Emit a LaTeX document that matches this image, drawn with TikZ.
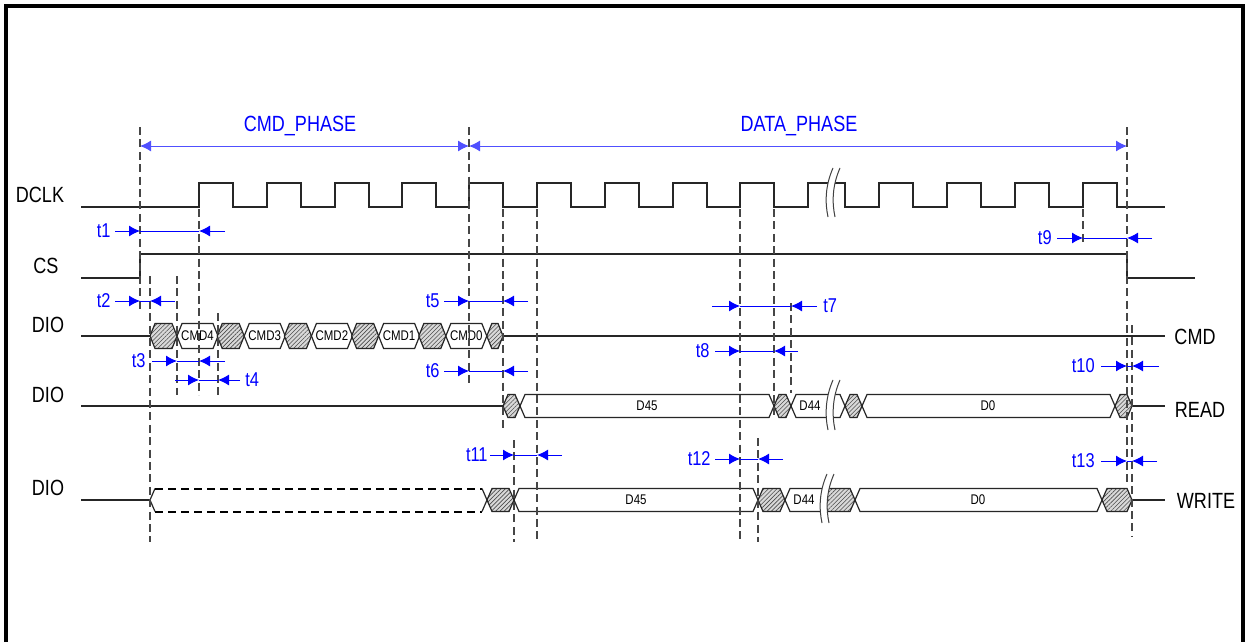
\documentclass[tikz,border=0pt]{standalone}
\usepackage{fontspec}
\setmainfont{Liberation Sans}[FakeStretch=0.82]
\usetikzlibrary{arrows.meta,patterns.meta}

\definecolor{tblue}{RGB}{0,0,255}
\definecolor{phblue}{RGB}{80,80,255}
\definecolor{dgray}{RGB}{70,70,70}

% one bus cell: style, x left, x right, y centre, half height
\newcommand\buscell[5]{%
  \draw[#1] (#2,#4) -- (#2+5,#4-#5) -- (#3-5,#4-#5) -- (#3,#4)
    -- (#3-5,#4+#5) -- (#2+5,#4+#5) -- cycle;}

% break mark: x, y top, y bottom
\newcommand\sigbreak[3]{%
  \fill[white] (#1+4,#2) .. controls (#1-4,#2+18) and (#1-4,#3-14) .. (#1-1,#3)
    -- (#1+6,#3) .. controls (#1+3,#3-14) and (#1+3,#2+18) .. (#1+11,#2) -- cycle;
  \draw[brkline] (#1+4,#2) .. controls (#1-4,#2+18) and (#1-4,#3-14) .. (#1-1,#3);
  \draw[brkline] (#1+11,#2) .. controls (#1+3,#2+18) and (#1+3,#3-14) .. (#1+6,#3);}

\begin{document}
\begin{tikzpicture}[
  x=0.5pt, y=-0.5pt,
  font=\fontsize{11}{13}\selectfont,
  sig/.style={line width=0.6pt, black!85},
  brkline/.style={line width=0.5pt, black!75},
  vdash/.style={dgray, line width=0.55pt, dash pattern=on 4pt off 2.2pt},
  hatch/.style={sig, preaction={fill=gray!30}, pattern={Lines[angle=45,distance=1.5pt,line width=0.3pt]}, pattern color=gray!60!black},
  cell/.style={sig, fill=white},
  wdash/.style={line width=1pt, black, dash pattern=on 4pt off 2.5pt},
  buslbl/.style={font=\fontsize{7}{8}\selectfont, inner sep=0},
  lbl/.style={inner sep=0, anchor=base},
  tlbl/.style={tblue, font=\fontsize{10}{12}\selectfont, inner sep=0},
  tline/.style={tblue, line width=0.5pt},
  tarr/.style={tline, -{Latex[length=5.5pt,width=5.5pt]}},
  pharr/.style={phblue, line width=0.5pt, {Latex[length=5.5pt,width=5.5pt]}-{Latex[length=5.5pt,width=5.5pt]}}
]
\useasboundingbox (0,0) rectangle (1245,642);
\fill[white] (0,0) rectangle (1245,642);
\draw[line width=1.6pt] (6,642) -- (6,6) -- (1243,6) -- (1243,642);

% signal names
\node[lbl] (dclk) at (40,202) {DCLK};
\node[lbl] (cs) at (46,273) {CS};
\node[lbl] (dioc) at (48,332) {DIO};
\node[lbl] (dior) at (48,402) {DIO};
\node[lbl] (diow) at (48,495) {DIO};
\node[lbl] (cmd) at (1195,344) {CMD};
\node[lbl] (read) at (1200,417) {READ};
\node[lbl] (write) at (1206,508) {WRITE};

% phases
\coordinate (phA) at (140,146);
\coordinate (phB) at (469,146);
\coordinate (phC) at (1127,146);
\draw[pharr] (phA) -- (phB);
\draw[pharr] (phB) -- (phC);
\node[lbl, tblue] (cmdph) at (300,131) {CMD\_PHASE};
\node[lbl, tblue] (dataph) at (799,131) {DATA\_PHASE};

% DCLK
\draw[sig] (81,207) foreach \r in {199,267,335,402,469,537,605,673,740} {
    -- (\r,207) -- (\r,183) -- (\r+34,183) -- (\r+34,207) }
  -- (808,207) -- (808,183) -- (845,183) -- (845,207)
  foreach \r in {879,947,1015,1083} {
    -- (\r,207) -- (\r,183) -- (\r+34,183) -- (\r+34,207) }
  -- (1165,207);

% CS
\draw[sig] (81,278) -- (140,278) -- (140,254) -- (1127,254) -- (1127,278) -- (1195,278);

% DIO, command
\draw[sig] (81,336) -- (150,336);
\foreach \i/\c in {0/CMD4,1/CMD3,2/CMD2,3/CMD1,4/CMD0} {
  \pgfmathsetmacro\xs{150+67.2*\i}
  \buscell{hatch}{\xs}{\xs+27}{336}{12.5}
  \buscell{cell}{\xs+27}{\xs+68}{336}{12.5}
  \node[buslbl] (\c) at (\xs+47.5,336) {\c};
}
\buscell{hatch}{486.8}{503}{336}{12.5}
\draw[sig] (503,336) -- (1165,336);

% DIO, read
\draw[sig] (81,406) -- (503,406);
\buscell{hatch}{503}{520}{406}{11.5}
\buscell{cell}{520}{774}{406}{11.5}
\buscell{hatch}{774}{791}{406}{11.5}
\buscell{cell}{791}{845}{406}{11.5}
\buscell{hatch}{845}{862}{406}{11.5}
\buscell{cell}{862}{1115}{406}{11.5}
\buscell{hatch}{1115}{1132}{406}{11.5}
\draw[sig] (1132,406) -- (1165,406);
\node[buslbl] (d45r) at (647,406) {D45};
\node[buslbl] (d44r) at (810,406) {D44};
\node[buslbl] (d0r) at (988,406) {D0};

% DIO, write
\draw[sig] (81,500) -- (150,500);
\draw[sig] (155,488.5) -- (150,500) -- (155,511.5);
\draw[wdash] (155,488.5) -- (482,488.5) (155,511.5) -- (482,511.5);
\draw[sig] (482,488.5) -- (487,500) -- (482,511.5);
\buscell{hatch}{487}{514}{500}{11.5}
\buscell{cell}{514}{758}{500}{11.5}
\buscell{hatch}{758}{785}{500}{11.5}
\buscell{hatch}{823}{855}{500}{11.5}
\buscell{cell}{785}{828}{500}{11.5}
\buscell{cell}{855}{1102}{500}{11.5}
\buscell{hatch}{1102}{1132}{500}{11.5}
\draw[sig] (1132,500) -- (1165,500);
\node[buslbl] (d45w) at (636,500) {D45};
\node[buslbl] (d44w) at (804,500) {D44};
\node[buslbl] (d0w) at (978,500) {D0};

% breaks
\sigbreak{829}{168}{217}
\sigbreak{829}{380}{430}
\sigbreak{823}{474}{523}

% timing references
\foreach \x/\ya/\yb in {140/127/312, 150/276/542, 177/276/395, 199/209/395,
    218/313/395, 469/127/385, 503/209/432, 514/440/542, 537/209/542,
    740/209/542, 758/438/542, 774/209/418, 791/303/393, 1083/209/243,
    1127/127/482, 1132/325/537}
  \draw[vdash] (\x,\ya) -- (\x,\yb);

% timing parameters
\foreach \n/\y/\xa/\xb/\xc/\xd/\an/\lx in {
    t1/231/115/140/199/225/base east/111,
    t2/301/115/140/150/175/base east/111,
    t3/361/152/177/199/225/base east/146,
    t4/380/175/199/218/240/base west/245,
    t5/301/444/469/503/528/base east/440,
    t6/371/444/469/503/528/base east/440,
    t7/306/712/740/791/817/base west/823,
    t8/351/715/740/774/798/base east/710,
    t9/238/1057/1083/1127/1152/base east/1052,
    t10/366/1101/1127/1132/1159/base east/1095,
    t11/455/490/514/537/562/base east/488,
    t12/459/715/740/758/783/base east/711,
    t13/461/1101/1127/1132/1157/base east/1095} {
  \coordinate (\n a) at (\xa,\y);
  \coordinate (\n b) at (\xb,\y);
  \coordinate (\n c) at (\xc,\y);
  \coordinate (\n d) at (\xd,\y);
  \draw[tarr] (\n a) -- (\n b);
  \draw[tline] (\n b) -- (\n c);
  \draw[tarr] (\n d) -- (\n c);
  \node[tlbl, anchor=\an] (\n) at (\lx,\y+6) {\n};
}
\end{tikzpicture}
\end{document}
